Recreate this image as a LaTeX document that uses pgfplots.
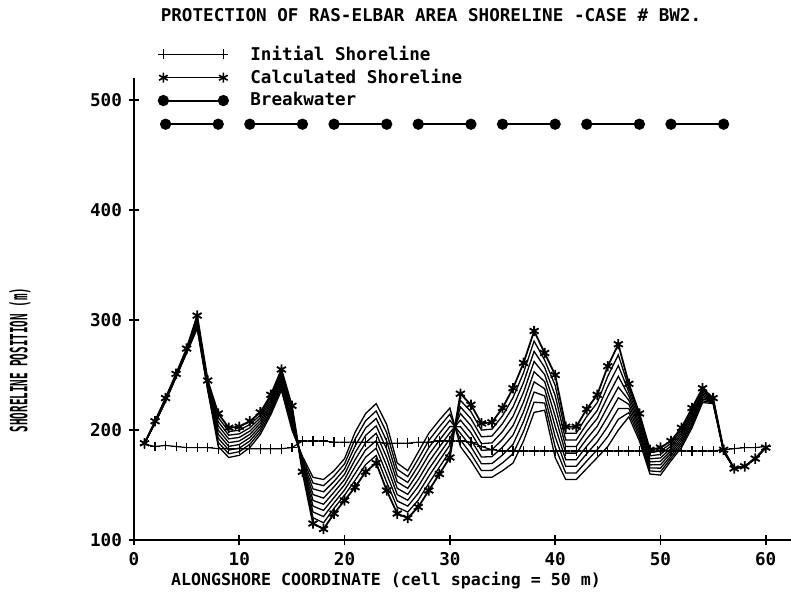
\documentclass[border=0pt]{standalone}
\usepackage{fontspec}
\setmainfont{DejaVu Sans Mono}
\usepackage{pgfplots}
\usepackage{pgfplotstable}
\pgfplotsset{compat=1.18}

\pgfplotstableread{
x c0 c1 c2 c3 c4 c5 c6 c7 c8
1 188 188 188 188 188 188 188 188 188
2 206 206.3 206.5 206.8 207 207.3 207.5 207.8 208
3 226 226.4 226.8 227.1 227.5 227.9 228.3 228.6 229
4 248 248.4 248.8 249.1 249.5 249.9 250.3 250.6 251
5 270 270.5 271 271.5 272 272.5 273 273.5 274
6 292 293.5 295 296.5 298 299.5 301 302.5 304
7 236 237.1 238.3 239.4 240.5 241.6 242.8 243.9 245
8 185 188.8 192.5 196.3 200 203.8 207.5 211.3 215
9 175 178.4 181.8 185.1 188.5 191.9 195.3 198.6 202
10 177 180.3 183.5 186.8 190 193.3 196.5 199.8 203
11 184 187 190 193 196 199 202 205 208
12 196 198.5 201 203.5 206 208.5 211 213.5 216
13 214 216.3 218.5 220.8 223 225.3 227.5 229.8 232
14 236 238.4 240.8 243.1 245.5 247.9 250.3 252.6 255
15 200 202.8 205.5 208.3 211 213.8 216.5 219.3 222
16 176 174.3 172.5 170.8 169 167.3 165.5 163.8 162
17 157 151.8 146.5 141.3 136 130.8 125.5 120.3 115
18 155 149.4 143.8 138.1 132.5 126.9 121.3 115.6 110
19 163 158.1 153.3 148.4 143.5 138.6 133.8 128.9 124
20 174 169.3 164.5 159.8 155 150.3 145.5 140.8 136
21 198 191.8 185.5 179.3 173 166.8 160.5 154.3 148
22 215 208.4 201.8 195.1 188.5 181.9 175.3 168.6 162
23 224 217.3 210.5 203.8 197 190.3 183.5 176.8 170
24 205 197.5 190 182.5 175 167.5 160 152.5 145
25 170 164.3 158.5 152.8 147 141.3 135.5 129.8 124
26 163 157.6 152.3 146.9 141.5 136.1 130.8 125.4 120
27 180 173.8 167.5 161.3 155 148.8 142.5 136.3 130
28 197 190.5 184 177.5 171 164.5 158 151.5 145
29 209 202.9 196.8 190.6 184.5 178.4 172.3 166.1 160
30 220 214.4 208.8 203.1 197.5 191.9 186.3 180.6 175
31 185 191 197 203 209 215 221 227 233
32 172 178.4 184.8 191.1 197.5 203.9 210.3 216.6 223
33 157 163.1 169.3 175.4 181.5 187.6 193.8 199.9 206
34 157 163.3 169.5 175.8 182 188.3 194.5 200.8 207
35 163 170.1 177.3 184.4 191.5 198.6 205.8 212.9 220
36 170 178.5 187 195.5 204 212.5 221 229.5 238
37 190 198.9 207.8 216.6 225.5 234.4 243.3 252.1 261
38 216 225.3 234.5 243.8 253 262.3 271.5 280.8 290
39 218 224.5 231 237.5 244 250.5 257 263.5 270
40 175 184.4 193.8 203.1 212.5 221.9 231.3 240.6 250
41 155 161 167 173 179 185 191 197 203
42 155 161 167 173 179 185 191 197 203
43 165 171.8 178.5 185.3 192 198.8 205.5 212.3 219
44 175 182.1 189.3 196.4 203.5 210.6 217.8 224.9 232
45 185 194.1 203.3 212.4 221.5 230.6 239.8 248.9 258
46 200 209.8 219.5 229.3 239 248.8 258.5 268.3 278
47 212 215.8 219.5 223.3 227 230.8 234.5 238.3 242
48 190 193.1 196.3 199.4 202.5 205.6 208.8 211.9 215
49 160 162.8 165.5 168.3 171 173.8 176.5 179.3 182
50 159 162.1 165.3 168.4 171.5 174.6 177.8 180.9 184
51 172 174.3 176.5 178.8 181 183.3 185.5 187.8 190
52 184 186.3 188.5 190.8 193 195.3 197.5 199.8 202
53 202 204.3 206.5 208.8 211 213.3 215.5 217.8 220
54 225 226.6 228.3 229.9 231.5 233.1 234.8 236.4 238
55 224 224.6 225.3 225.9 226.5 227.1 227.8 228.4 229
56 180 180.3 180.5 180.8 181 181.3 181.5 181.8 182
57 165 165 165 165 165 165 165 165 165
58 167 167 167 167 167 167 167 167 167
59 174 174 174 174 174 174 174 174 174
60 184 184 184 184 184 184 184 184 184
}\calc

\pgfplotstableread{
x y
1 187
2 185
3 186
4 185
5 184
6 184
7 184
8 183
9 183
10 183
11 183
12 183
13 183
14 183
15 184
16 190
17 190
18 190
19 189
20 189
21 189
22 189
23 189
24 188
25 188
26 188
27 189
28 189
29 190
30 190
31 190
32 189
33 185
34 182
35 181
36 181
37 181
38 181
39 181
40 181
41 181
42 181
43 181
44 181
45 181
46 181
47 181
48 181
49 181
50 181
51 181
52 181
53 181
54 181
55 181
56 182
57 183
58 184
59 184
60 185
}\initial

\begin{document}
\begin{tikzpicture}[font=\fontsize{8.8}{10}\selectfont\bfseries]
\begin{axis}[name=ax, scale only axis, width=328.5pt, height=231pt,
  xmin=0, xmax=62.4, ymin=100, ymax=520,
  axis lines=left, axis line style={-, line width=1pt},
  xtick={0,10,...,60}, ytick={100,200,...,500},
  tick align=center, major tick length=5pt, tick style={line width=0.8pt, black},
  /pgf/number format/assume math mode=true,
  ticklabel style={font=\fontsize{8.8}{10}\selectfont\bfseries},
  clip=false,
  legend style={draw=none, fill=none, at={(rel axis cs:0.0365,1.075)}, anchor=north west,
    inner sep=0pt, row sep=1pt, nodes={inner sep=1pt, anchor=west},
    font=\fontsize{8.8}{10}\selectfont\bfseries},
  legend cell align=left,
  legend image code/.code={\draw[#1] plot coordinates {(0pt,0pt) (30pt,0pt)}; \path (42pt,0pt);},
]
\addlegendimage{black, line width=0.5pt, mark=+, mark size=2.5pt}
\addlegendentry{Initial Shoreline}
\addlegendimage{black, line width=0.5pt, mark=asterisk, mark size=2.5pt, mark options={line width=0.8pt}}
\addlegendentry{Calculated Shoreline}
\addlegendimage{black, line width=1pt, mark=*, mark size=2.3pt}
\addlegendentry{Breakwater}

\addplot[black, line width=0.65pt, forget plot] table[x=x, y=c0] {\calc};
\addplot[black, line width=0.65pt, forget plot] table[x=x, y=c1] {\calc};
\addplot[black, line width=0.65pt, forget plot] table[x=x, y=c2] {\calc};
\addplot[black, line width=0.65pt, forget plot] table[x=x, y=c3] {\calc};
\addplot[black, line width=0.65pt, forget plot] table[x=x, y=c4] {\calc};
\addplot[black, line width=0.65pt, forget plot] table[x=x, y=c5] {\calc};
\addplot[black, line width=0.65pt, forget plot] table[x=x, y=c6] {\calc};
\addplot[black, line width=0.65pt, forget plot] table[x=x, y=c7] {\calc};
\addplot[black, line width=0.9pt, mark=asterisk, mark size=2.6pt, mark options={line width=0.9pt}, forget plot] table[x=x, y=c8] {\calc};

\addplot[black, line width=0.6pt, mark=+, mark size=2.4pt, forget plot] table[x=x, y=y] {\initial};

\addplot[black, line width=1pt, mark=*, mark size=2.3pt, forget plot] coordinates {(3,478) (8,478)};
\addplot[black, line width=1pt, mark=*, mark size=2.3pt, forget plot] coordinates {(11,478) (16,478)};
\addplot[black, line width=1pt, mark=*, mark size=2.3pt, forget plot] coordinates {(19,478) (24,478)};
\addplot[black, line width=1pt, mark=*, mark size=2.3pt, forget plot] coordinates {(27,478) (32,478)};
\addplot[black, line width=1pt, mark=*, mark size=2.3pt, forget plot] coordinates {(35,478) (40,478)};
\addplot[black, line width=1pt, mark=*, mark size=2.3pt, forget plot] coordinates {(43,478) (48,478)};
\addplot[black, line width=1pt, mark=*, mark size=2.3pt, forget plot] coordinates {(51,478) (56,478)};
\end{axis}
\node at ([shift={(148.5pt,262.5pt)}]ax.south west) {PROTECTION OF RAS-ELBAR AREA SHORELINE -CASE \# BW2.};
\node[rotate=90] at ([shift={(-57pt,90pt)}]ax.south west) {\scalebox{0.62}[1.35]{SHORELINE POSITION (m)}};
\node[font=\fontsize{8.3}{10}\selectfont\bfseries] at ([shift={(126pt,-20pt)}]ax.south west) {ALONGSHORE COORDINATE (cell spacing = 50 m)};
\pgfresetboundingbox
\path ([shift={(-67pt,-26.5pt)}]ax.south west) rectangle ([shift={(328.5pt,270pt)}]ax.south west);
\end{tikzpicture}
\end{document}
